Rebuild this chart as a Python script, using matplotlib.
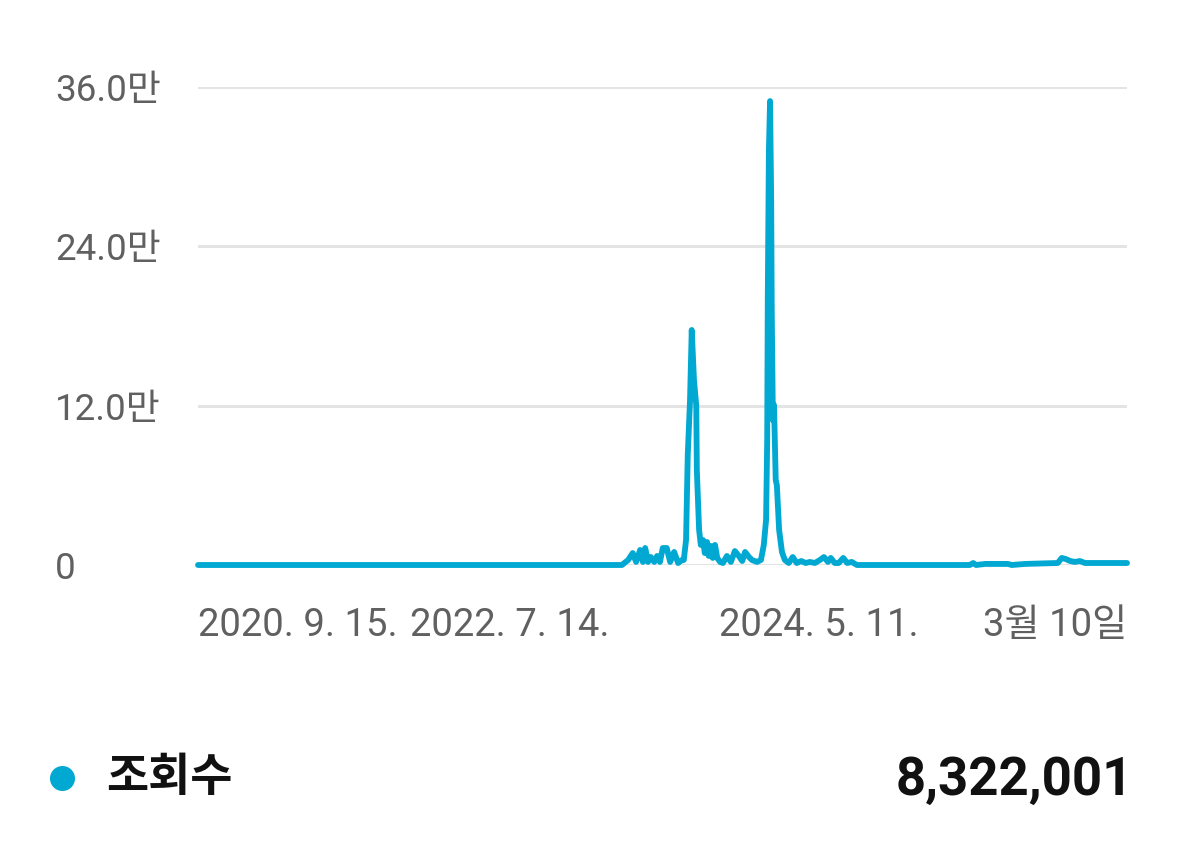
import matplotlib
matplotlib.use("Agg")
from matplotlib import pyplot as plt

plt.rcParams['font.family'] = ['Roboto', 'Noto Sans CJK KR', 'DejaVu Sans']

# 2020-09-15 부터의 일수, 일별 조회수
days = [0, 747, 758, 766, 772, 779, 784, 788, 793, 798, 804, 809, 814, 819, 826, 832,
        839, 846, 853, 856, 860, 863, 867, 870, 874, 878, 879, 883, 886, 890, 893, 897,
        900, 904, 907, 911, 915, 920, 925, 932, 939, 946, 953, 959, 964, 971, 976, 985,
        992, 997, 1001, 1003, 1004, 1006, 1008, 1010, 1011, 1013, 1015, 1018, 1020, 1024,
        1029, 1034, 1041, 1048, 1055, 1063, 1071, 1078, 1087, 1096, 1103, 1110, 1115, 1122,
        1129, 1137, 1144, 1152, 1161, 1360, 1366, 1371, 1387, 1427, 1434, 1457, 1515, 1522,
        1529, 1537, 1545, 1554, 1563, 1572, 1637]
views = [0, 0, 3800, 9000, 2300, 11300, 2300, 12800, 2300, 6000, 2300, 6800, 2300, 12800, 12800, 2300,
         9800, 1500, 3800, 3800, 18800, 82800, 124000, 177000, 139000, 120000, 71500, 26400, 15100, 18800, 9000, 17300,
         6800, 14300, 5300, 15100, 5300, 2300, 1500, 6800, 2300, 10500, 6800, 3000, 9800, 6000, 3800, 2300,
         3800, 15100, 33900, 94100, 199500, 312500, 349400, 274800, 192000, 109200, 120500, 64000, 60200, 26400,
         9800, 3800, 1500, 6000, 1500, 3000, 1500, 2300, 1500, 3800, 6000, 2300, 5300, 1500,
         1500, 5300, 1500, 2300, 0, 0, 1500, 0, 800, 800, 0, 800, 1500, 5300,
         4500, 3000, 2300, 3000, 1500, 1500, 1500]

total_days = 1637
y_ticks = [0, 120000, 240000, 360000]
y_labels = ['0', '12.0만', '24.0만', '36.0만']
x_labels = ['2020. 9. 15.', '2022. 7. 14.', '2024. 5. 11.', '3월 10일']
series_name = '조회수'
total_views = 8322001

W, H = 1179, 846
fig = plt.figure(figsize=(W / 100, H / 100), dpi=100)
ax = fig.add_axes([198 / W, (H - 565) / H, 929 / W, 478 / H])

ax.plot(days, views, color='#00a8d2', linewidth=4.2, solid_joinstyle='round',
        solid_capstyle='round', clip_on=False, zorder=3)

ax.set_xlim(0, total_days)
ax.set_ylim(0, 360000)
for s in ax.spines.values():
    s.set_visible(False)

ax.set_yticks(y_ticks, y_labels)
ax.grid(axis='y', color='#e4e4e4', linewidth=2.2)
ax.tick_params(axis='y', length=0, pad=103, labelsize=26.5, labelcolor='#606060')
for t in ax.get_yticklabels():
    t.set_horizontalalignment('left')

# 라벨 위치는 원본 화면 배치에 맞춤
x_pos = [0, total_days * 0.336, total_days * 0.668, total_days]
ax.set_xticks(x_pos, x_labels)
ax.tick_params(axis='x', length=0, pad=30, labelsize=27.5, labelcolor='#606060')
for t, ha in zip(ax.get_xticklabels(), ['left', 'center', 'center', 'right']):
    t.set_horizontalalignment(ha)

# 하단 범례
ax.plot([62 / W], [1 - 778 / H], 'o', color='#00a8d2', markersize=17,
        transform=fig.transFigure, clip_on=False)
fig.text(106 / W, 1 - 778 / H, series_name, fontsize=33, fontweight='bold',
         color='#111111', va='center', ha='left')
fig.text(1133 / W, 1 - 780 / H, f'{total_views:,}', fontsize=38, fontweight='bold',
         color='#111111', va='center', ha='right')

fig.savefig('out.png', dpi=100, facecolor='white')
